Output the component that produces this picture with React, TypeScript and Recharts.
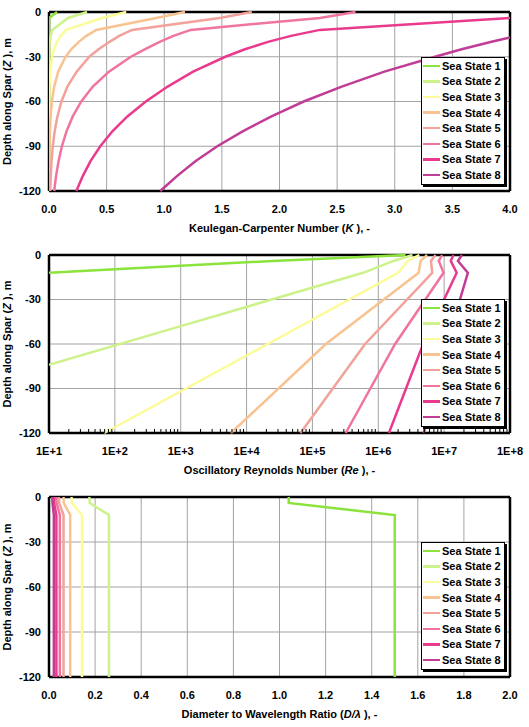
import React from 'react';
import {
  ScatterChart,
  Scatter,
  XAxis,
  YAxis,
  ReferenceLine,
  Legend,
} from 'recharts';

type Pt = [number, number]; // [value, depth Z in m]

const FONT = '"Liberation Sans", Arial, Helvetica, sans-serif';

const seaStateNames = [
  'Sea State 1', 'Sea State 2', 'Sea State 3', 'Sea State 4',
  'Sea State 5', 'Sea State 6', 'Sea State 7', 'Sea State 8',
];
const seaStateColors = [
  '#8be33b', '#cdf28a', '#fbfb99', '#f9c391',
  '#f3a19b', '#f0749f', '#ea3a8e', '#c13c96',
];

const depthDomain: [number, number] = [-120, 0];
const depthTicks = [-120, -90, -60, -30, 0];

// Keulegan-Carpenter number K along the spar
const kcTicks = [0, 0.5, 1, 1.5, 2, 2.5, 3, 3.5, 4];
const kcSeaState1: Pt[] = [[0.07, 0], [0.0015, -4], [0, -12], [0, -120]];
const kcSeaState2: Pt[] = [
  [0.33, 0], [0.165, -4], [0.028, -12], [0.014, -16], [0.007, -20], [0.003, -25],
  [0.0012, -30], [0.0002, -40], [0, -50], [0, -120],
];
const kcSeaState3: Pt[] = [
  [0.67, 0], [0.46, -4], [0.149, -12], [0.102, -16], [0.07, -20], [0.043, -25],
  [0.027, -30], [0.0105, -40], [0.004, -50], [0.0016, -60], [0.0006, -70],
  [0.0002, -80], [0, -90], [0, -120],
];
const kcSeaState4: Pt[] = [
  [1.18, 0], [0.93, -4], [0.41, -12], [0.325, -16], [0.258, -20], [0.193, -25],
  [0.144, -30], [0.08, -40], [0.045, -50], [0.025, -60], [0.014, -70],
  [0.0078, -80], [0.0044, -90], [0.0024, -100], [0.0014, -110], [0.0008, -120],
];
const kcSeaState5: Pt[] = [
  [1.76, 0], [1.48, -4], [0.72, -12], [0.61, -16], [0.525, -20], [0.43, -25],
  [0.35, -30], [0.24, -40], [0.16, -50], [0.108, -60], [0.073, -70],
  [0.049, -80], [0.033, -90], [0.022, -100], [0.015, -110], [0.01, -120],
];
const kcSeaState6: Pt[] = [
  [2.66, 0], [2.35, -4], [1.23, -12], [1.08, -16], [0.96, -20], [0.83, -25],
  [0.71, -30], [0.52, -40], [0.38, -50], [0.28, -60], [0.206, -70],
  [0.152, -80], [0.112, -90], [0.083, -100], [0.061, -110], [0.045, -120],
];
const kcSeaState7: Pt[] = [
  [4.0, -4], [2.35, -12], [2.1, -16], [1.9, -20], [1.7, -25], [1.53, -30],
  [1.25, -40], [1.03, -50], [0.84, -60], [0.68, -70], [0.55, -80],
  [0.445, -90], [0.36, -100], [0.293, -110], [0.237, -120],
];
const kcSeaState8: Pt[] = [
  [4.0, -17], [3.84, -20], [3.58, -25], [3.35, -30], [2.91, -40], [2.54, -50],
  [2.21, -60], [1.93, -70], [1.68, -80], [1.46, -90], [1.27, -100],
  [1.11, -110], [0.965, -120],
];

// Oscillatory Reynolds number Re along the spar
const reDecades = [1e1, 1e2, 1e3, 1e4, 1e5, 1e6, 1e7, 1e8];
const reMinorSteps = [2, 3, 4, 5, 6, 7, 8, 9];
const reSeaState1: Pt[] = [[2.6e6, 0], [2.5e4, -4], [10, -12]];
const reSeaState2: Pt[] = [[3.3e6, 0], [1.7e6, -4], [5.9e5, -12], [2.4e4, -30], [700, -50], [10, -74]];
const reSeaState3: Pt[] = [[4.2e6, 0], [2.8e6, -4], [2.0e6, -12], [2.1e4, -60], [69, -120]];
const reSeaState4: Pt[] = [[5.5e6, 0], [4.4e6, -4], [4.1e6, -12], [1.6e5, -60], [5.8e3, -120]];
const reSeaState5: Pt[] = [[7.4e6, 0], [6.3e6, -4], [6.6e6, -12], [6.3e5, -60], [6.6e4, -120]];
const reSeaState6: Pt[] = [[9.3e6, 0], [8.3e6, -4], [9.8e6, -12], [1.8e6, -60], [3.2e5, -120]];
const reSeaState7: Pt[] = [[1.38e7, 0], [1.26e7, -4], [1.55e7, -12], [4.8e6, -60], [1.45e6, -120]];
const reSeaState8: Pt[] = [[1.86e7, 0], [1.62e7, -4], [2.29e7, -12], [1.1e7, -60], [4.9e6, -120]];

// Diameter to wavelength ratio D/λ along the spar
const ratioTicks = [0, 0.2, 0.4, 0.6, 0.8, 1.0, 1.2, 1.4, 1.6, 1.8, 2.0];
const ratioSeaState1: Pt[] = [[1.04, 0], [1.04, -4], [1.5, -12], [1.5, -120]];
const ratioSeaState2: Pt[] = [[0.175, 0], [0.177, -4], [0.26, -12], [0.26, -120]];
const ratioSeaState3: Pt[] = [[0.098, 0], [0.099, -4], [0.143, -12], [0.143, -120]];
const ratioSeaState4: Pt[] = [[0.063, 0], [0.064, -4], [0.092, -12], [0.092, -120]];
const ratioSeaState5: Pt[] = [[0.043, 0], [0.044, -4], [0.063, -12], [0.063, -120]];
const ratioSeaState6: Pt[] = [[0.032, 0], [0.033, -4], [0.047, -12], [0.047, -120]];
const ratioSeaState7: Pt[] = [[0.022, 0], [0.022, -4], [0.032, -12], [0.032, -120]];
const ratioSeaState8: Pt[] = [[0.0145, 0], [0.015, -4], [0.021, -12], [0.021, -120]];

const kcSeries = [kcSeaState1, kcSeaState2, kcSeaState3, kcSeaState4, kcSeaState5, kcSeaState6, kcSeaState7, kcSeaState8];
const reSeries = [reSeaState1, reSeaState2, reSeaState3, reSeaState4, reSeaState5, reSeaState6, reSeaState7, reSeaState8];
const ratioSeries = [ratioSeaState1, ratioSeaState2, ratioSeaState3, ratioSeaState4, ratioSeaState5, ratioSeaState6, ratioSeaState7, ratioSeaState8];

const reTicks = reDecades.flatMap((d, i) =>
  i < reDecades.length - 1 ? [d, ...reMinorSteps.map((m) => d * m)] : [d]
);

// grid lines only inside the frame
const inner = (ticks: number[]) => ticks.slice(1, -1);

const TICK_SIZE = 6;
const TICK_MARGIN = 8;
const GRID = '#a3a3a3';

const textStyle = { fontFamily: FONT, fontSize: 11, fontWeight: 700, fill: '#000' };

type TitlePart = { text: string; italic?: boolean };

const renderParts = (parts: TitlePart[]) =>
  parts.map((p, i) => (
    <tspan key={i} fontStyle={p.italic ? 'italic' : 'normal'}>{p.text}</tspan>
  ));

const xTitle = (parts: TitlePart[]) => (props: any) => {
  const { x, y, width } = props.viewBox;
  return (
    <text x={x + width / 2} y={y + 41} textAnchor="middle" style={{ ...textStyle, whiteSpace: 'pre' }}>
      {renderParts(parts)}
    </text>
  );
};

const depthTitle = (props: any) => {
  const { y, height } = props.viewBox;
  const cx = 7;
  const cy = y + height / 2;
  return (
    <text
      x={cx}
      y={cy}
      textAnchor="middle"
      dominantBaseline="central"
      transform={`rotate(-90, ${cx}, ${cy})`}
      style={{ ...textStyle, whiteSpace: 'pre' }}
    >
      {renderParts([{ text: 'Depth along Spar (' }, { text: 'Z', italic: true }, { text: ' ), m' }])}
    </text>
  );
};

// decade labels plus small inward minor ticks for the log axis
const LogTick = (props: any) => {
  const { x, y, payload } = props;
  const v = payload.value as number;
  const exp = Math.round(Math.log10(v));
  const major = Math.abs(v - Math.pow(10, exp)) < 1e-6 * v;
  if (!major) {
    const axisY = y - TICK_SIZE - TICK_MARGIN;
    return <line x1={x} x2={x} y1={axisY} y2={axisY - 4} stroke="#000" strokeWidth={1} />;
  }
  return (
    <text x={x} y={y} dy="0.71em" textAnchor="middle" style={textStyle}>
      {`1E+${exp}`}
    </text>
  );
};

const SeaStateLegend = () => (
  <div
    style={{
      background: '#fff',
      border: '1px solid #000',
      boxShadow: '2px 2px 0 #000',
      padding: '0 3px 1px 1px',
      fontFamily: FONT,
      fontSize: 11,
      fontWeight: 700,
      color: '#000',
    }}
  >
    {seaStateNames.map((name, i) => (
      <div key={name} style={{ display: 'flex', alignItems: 'center', height: 15.6, whiteSpace: 'nowrap' }}>
        <span style={{ display: 'inline-block', width: 17, height: 2.5, background: seaStateColors[i], marginRight: 2 }} />
        <span>{name}</span>
      </div>
    ))}
  </div>
);

const noMarker = () => <g />;

type PanelProps = {
  top: number;
  height: number;
  marginTop: number;
  series: Pt[][];
  xDomain: [number, number];
  xTicks: number[];
  log?: boolean;
  title: TitlePart[];
};

function DepthPanel({ top, height, marginTop, series, xDomain, xTicks, log, title }: PanelProps) {
  const gridX = inner(log ? reDecades : xTicks);
  return (
    <div style={{ position: 'absolute', left: 0, top, width: 529, height }}>
      <ScatterChart width={529} height={height} margin={{ top: marginTop, right: 19, bottom: 0, left: 0 }}>
        <XAxis
          type="number"
          dataKey="v"
          domain={xDomain}
          ticks={xTicks}
          scale={log ? 'log' : 'auto'}
          allowDataOverflow
          interval={0}
          axisLine={false}
          tickLine={false}
          tickSize={TICK_SIZE}
          tickMargin={TICK_MARGIN}
          height={51}
          tick={log ? <LogTick /> : textStyle}
          tickFormatter={(v: number) => v.toFixed(1)}
          label={xTitle(title)}
        />
        <YAxis
          type="number"
          dataKey="z"
          domain={depthDomain}
          ticks={depthTicks}
          interval={0}
          width={49}
          axisLine={false}
          tickLine={false}
          tickSize={6}
          tickMargin={2}
          tick={textStyle}
          label={depthTitle}
        />
        {/* grid */}
        {inner(depthTicks).map((z) => (
          <ReferenceLine key={`gy${z}`} y={z} stroke={GRID} strokeWidth={1} />
        ))}
        {gridX.map((v) => (
          <ReferenceLine key={`gx${v}`} x={v} stroke={GRID} strokeWidth={1} />
        ))}
        {/* black frame round the plot area */}
        {depthDomain.map((z) => (
          <ReferenceLine key={`fy${z}`} y={z} stroke="#000" strokeWidth={2.5} ifOverflow="visible" />
        ))}
        {xDomain.map((v) => (
          <ReferenceLine key={`fx${v}`} x={v} stroke="#000" strokeWidth={2.5} ifOverflow="visible" />
        ))}
        {series.map((pts, i) => (
          <Scatter
            key={seaStateNames[i]}
            name={seaStateNames[i]}
            data={pts.map(([v, z]) => ({ v, z }))}
            fill={seaStateColors[i]}
            line={{ stroke: seaStateColors[i], strokeWidth: 2.5 }}
            lineJointType="linear"
            shape={noMarker}
            isAnimationActive={false}
          />
        ))}
        <Legend
          layout="vertical"
          align="center"
          verticalAlign="middle"
          wrapperStyle={{ left: 421, top: 57 }}
          content={<SeaStateLegend />}
        />
      </ScatterChart>
    </div>
  );
}

export default function App() {
  return (
    <div style={{ position: 'absolute', left: 0, top: 0, width: 529, height: 727, background: '#fff', fontFamily: FONT }}>
      <DepthPanel
        top={0}
        height={242}
        marginTop={12}
        series={kcSeries}
        xDomain={[0, 4]}
        xTicks={kcTicks}
        title={[{ text: 'Keulegan-Carpenter Number (' }, { text: 'K', italic: true }, { text: ' ), -' }]}
      />
      <DepthPanel
        top={242}
        height={242}
        marginTop={13}
        series={reSeries}
        xDomain={[1e1, 1e8]}
        xTicks={reTicks}
        log
        title={[{ text: 'Oscillatory Reynolds Number (' }, { text: 'Re', italic: true }, { text: ' ), -' }]}
      />
      <DepthPanel
        top={485}
        height={243}
        marginTop={12}
        series={ratioSeries}
        xDomain={[0, 2]}
        xTicks={ratioTicks}
        title={[{ text: 'Diameter to Wavelength Ratio (' }, { text: 'D/λ', italic: true }, { text: ' ), -' }]}
      />
    </div>
  );
}
